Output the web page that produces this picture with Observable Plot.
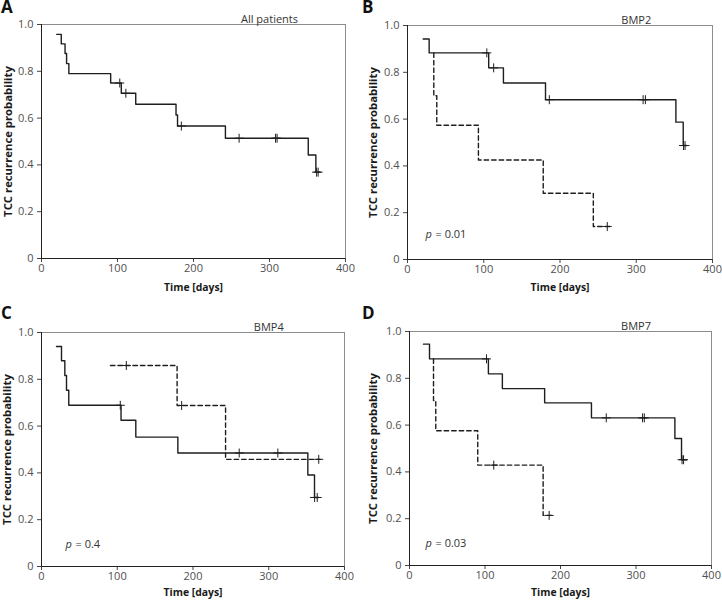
<!DOCTYPE html>
<html><head><meta charset="utf-8">
<script src="https://cdn.jsdelivr.net/npm/d3@7"></script>
<script src="https://cdn.jsdelivr.net/npm/@observablehq/plot@0.6"></script>
<style>
body{margin:0;background:#fff;}
#root{position:relative;width:722px;height:604px;font-family:"Open Sans",sans-serif;overflow:hidden;}
.panel{position:absolute;}
.letter{position:absolute;font-weight:bold;font-size:17px;line-height:14px;color:#111;}
</style></head><body><div id="root"></div>
<script>
// ---- shared axis values ----
const yTicks = [0, 0.2, 0.4, 0.6, 0.8, 1.0];
const xTicks = [0, 100, 200, 300, 400];
const yLabel = "TCC recurrence probability";
const xLabel = "Time [days]";
const panelLetters = ["A", "B", "C", "D"];
const panelTitles = ["All patients", "BMP2", "BMP4", "BMP7"];
const pValues = [null, "0.01", "0.4", "0.03"];

// ---- A: all patients ----
const A_solid_time = [20, 26, 31, 33, 36, 91, 105, 124, 177, 179, 242, 351, 361, 366];
const A_solid_surv = [0.958, 0.917, 0.876, 0.833, 0.790, 0.750, 0.706, 0.659, 0.613, 0.566, 0.514, 0.442, 0.369, 0.369];
const A_solid_cens = [103, 111, 184, 260, 308, 310, 362, 364];

// ---- B: BMP2 ----
const B_solid_time = [20.5, 28.4, 106.5, 125.8, 181, 352, 361.6, 366];
const B_solid_surv = [0.942, 0.883, 0.819, 0.754, 0.683, 0.587, 0.487, 0.487];
const B_solid_cens = [104, 113, 186, 309, 312, 362, 364];
const B_dash_time = [34.5, 34.5, 38.4, 93, 178, 243.7, 265.5];
const B_dash_surv = [0.883, 0.700, 0.574, 0.425, 0.283, 0.141, 0.141];
const B_dash_cens = [262];

// ---- C: BMP4 ----
const C_solid_time = [19.8, 26.4, 30.8, 33, 36, 105, 124.5, 180, 351.6, 360.4, 366];
const C_solid_surv = [0.940, 0.879, 0.816, 0.753, 0.689, 0.625, 0.553, 0.485, 0.391, 0.295, 0.295];
const C_solid_cens = [104, 261, 312, 360.5, 364];
const C_dash_time = [91, 179, 243, 368];
const C_dash_surv = [0.859, 0.688, 0.458, 0.458];
const C_dash_cens = [112, 185, 366];

// ---- D: BMP7 ----
const D_solid_time = [18.5, 26.5, 104.5, 123, 179, 241, 351.5, 360.3, 367];
const D_solid_surv = [0.946, 0.883, 0.819, 0.756, 0.695, 0.631, 0.543, 0.452, 0.452];
const D_solid_cens = [102, 260.6, 308.7, 311, 361, 363];
const D_dash_time = [31.8, 31.8, 34.8, 90.4, 177, 188];
const D_dash_surv = [0.883, 0.705, 0.576, 0.429, 0.214, 0.214];
const D_dash_cens = [111.6, 185];

// ---- layout (not data) ----
const layout = [
  {left: 0,   top: 0,   h: 302, mt: 24, mb: 44, ml: 41, mr: 16, pdx: 0,  pdy: 0,   xl: 32, yl: -33},
  {left: 361, top: 0,   h: 302, mt: 25, mb: 43, ml: 46, mr: 10, pdx: 18, pdy: -22, xl: 31, yl: -34},
  {left: 0,   top: 300, h: 304, mt: 32, mb: 38, ml: 41, mr: 17, pdx: 24, pdy: -19, xl: 29, yl: -34},
  {left: 361, top: 300, h: 304, mt: 31, mb: 39, ml: 48, mr: 11, pdx: 16, pdy: -19, xl: 30, yl: -36}
];
const series = [
  {solid: [A_solid_time, A_solid_surv, A_solid_cens], dash: null},
  {solid: [B_solid_time, B_solid_surv, B_solid_cens], dash: [B_dash_time, B_dash_surv, B_dash_cens]},
  {solid: [C_solid_time, C_solid_surv, C_solid_cens], dash: [C_dash_time, C_dash_surv, C_dash_cens]},
  {solid: [D_solid_time, D_solid_surv, D_solid_cens], dash: [D_dash_time, D_dash_surv, D_dash_cens]}
];

function steps(t, s) { return t.map((d, i) => ({t: d, s: s[i]})); }
function levelAt(t, s, x) { let v = s[0]; for (let i = 0; i < t.length; i++) if (t[i] <= x) v = s[i]; return v; }
function censors(t, s, c) { return c.map(x => ({t: x, s: levelAt(t, s, x)})); }

const root = document.getElementById("root");
const ink = "#1e1e1e";

layout.forEach((L, i) => {
  const marks = [
    Plot.frame({stroke: "#8c8c8c", strokeWidth: 1}),
    Plot.axisY({ticks: yTicks, tickSize: 4, tickPadding: 4, tickFormat: d => d === 0 ? "0" : d.toFixed(1), fill: "#505050", stroke: "#444", label: null}),
    Plot.axisX({ticks: xTicks, tickSize: 4, tickPadding: 2, tickFormat: d => String(d), fill: "#505050", stroke: "#444", label: null}),
    Plot.ruleX([0], {stroke: "#222", strokeWidth: 1}),
    Plot.ruleY([0], {stroke: "#222", strokeWidth: 1}),
    Plot.text([yLabel], {frameAnchor: "left", textAnchor: "middle", dx: L.yl, rotate: -90, fontWeight: "bold", fontSize: 11.3, fill: "#1a1a1a"}),
    Plot.text([xLabel], {frameAnchor: "bottom", textAnchor: "middle", dy: L.xl, fontWeight: "bold", fontSize: 10.4, fill: "#1a1a1a"}),
    Plot.text([{x: 300, label: panelTitles[i]}], {x: "x", text: "label", frameAnchor: "top", textAnchor: "middle", dy: -9, fill: "#333", fontSize: 11})
  ];
  const S = series[i];
  const [st, ss, sc] = S.solid;
  marks.push(Plot.line(steps(st, ss), {x: "t", y: "s", curve: "step-after", stroke: ink, strokeWidth: 1.4}));
  marks.push(Plot.dot(censors(st, ss, sc), {x: "t", y: "s", symbol: "plus", r: 3, stroke: ink, strokeWidth: 1}));
  if (S.dash) {
    const [dt, ds, dc] = S.dash;
    marks.push(Plot.line(steps(dt, ds), {x: "t", y: "s", curve: "step-after", stroke: ink, strokeWidth: 1.4, strokeDasharray: "4.5,3"}));
    marks.push(Plot.dot(censors(dt, ds, dc), {x: "t", y: "s", symbol: "plus", r: 3, stroke: ink, strokeWidth: 1}));
  }
  if (pValues[i]) {
    marks.push(Plot.text(["p"], {frameAnchor: "bottom-left", dx: L.pdx, dy: L.pdy, textAnchor: "start", fontStyle: "italic", fill: "#333"}));
    marks.push(Plot.text(["= " + pValues[i]], {frameAnchor: "bottom-left", dx: L.pdx + 10, dy: L.pdy, textAnchor: "start", fill: "#333"}));
  }
  const chart = Plot.plot({
    width: 361, height: L.h,
    marginTop: L.mt, marginBottom: L.mb, marginLeft: L.ml, marginRight: L.mr,
    x: {domain: [0, 400]},
    y: {domain: [0, 1]},
    style: {fontFamily: "'Open Sans', sans-serif", fontSize: "11px", background: "transparent", overflow: "visible"},
    marks
  });
  const wrap = document.createElement("div");
  wrap.className = "panel";
  wrap.style.left = L.left + "px";
  wrap.style.top = L.top + "px";
  wrap.appendChild(chart);
  root.appendChild(wrap);

  const letter = document.createElement("div");
  letter.className = "letter";
  letter.textContent = panelLetters[i];
  letter.style.left = (L.left + 1) + "px";
  letter.style.top = (L.top + (i < 2 ? 0 : 6)) + "px";
  root.appendChild(letter);
});
</script></body></html>
